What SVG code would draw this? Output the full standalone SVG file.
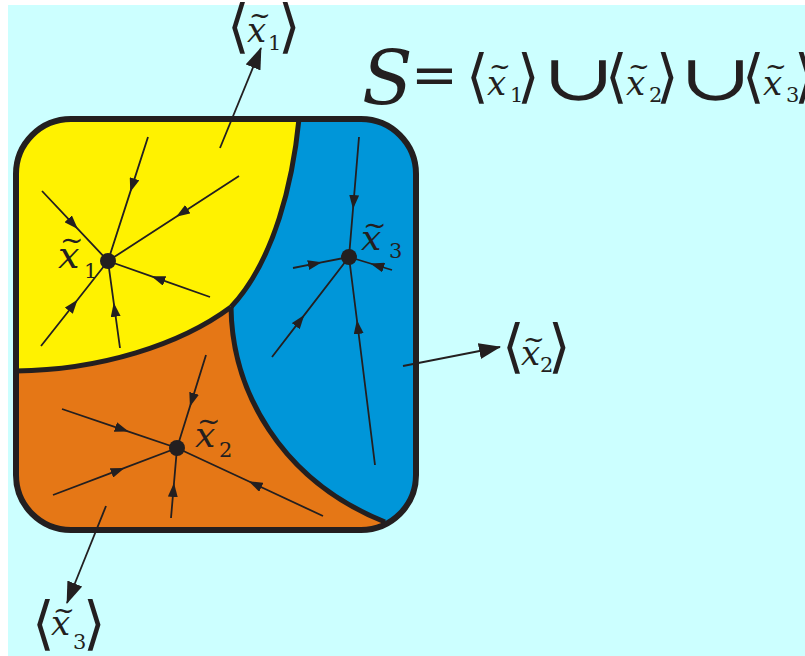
<svg xmlns="http://www.w3.org/2000/svg" width="805" height="656" viewBox="0 0 805 656">
<defs>
<style>
text{font-family:"DejaVu Serif",serif;fill:#231f20}
.i{font-style:italic}
.b{font-size:58px}
.flow{fill:none;stroke:#231f20;stroke-width:1.8;marker-mid:url(#ah)}
.out{fill:none;stroke:#231f20;stroke-width:1.8;marker-end:url(#big)}
.bd{fill:none;stroke:#231f20;stroke-width:5;stroke-linejoin:round}
</style>
<marker id="ah" viewBox="0 0 14 10" refX="7" refY="5" markerWidth="14" markerHeight="10" markerUnits="userSpaceOnUse" orient="auto"><path d="M0,0 L14,5 L0,10 z" fill="#231f20"/></marker>
<marker id="big" viewBox="0 0 22 16" refX="21" refY="8" markerWidth="22" markerHeight="16" markerUnits="userSpaceOnUse" orient="auto"><path d="M0,0 L22,8 L0,16 z" fill="#231f20"/></marker>
<clipPath id="box"><rect x="16" y="119" width="400" height="411" rx="55" ry="55"/></clipPath>
</defs>
<rect x="0" y="0" width="805" height="656" fill="#ffffff"/>
<rect x="8" y="5" width="797" height="651" fill="#ccffff"/>

<g id="regions" clip-path="url(#box)">
<rect x="16" y="119" width="400" height="411" fill="#e57716"/>
<path id="yellow" d="M0,100 L299,100 L299,119 C293,180 275,260 231,307 C180,345 100,370 16,371 L0,371 Z" fill="#fff200"/>
<path id="blue" d="M299,100 L440,100 L440,560 L405,545 L385,522 C280,480 232,390 231,307 C275,260 293,180 299,119 Z" fill="#0096d9"/>
</g>
<g id="boundaries">
<path class="bd" d="M299,119 C293,180 275,260 231,307"/>
<path class="bd" d="M231,307 C180,345 100,370 16,371"/>
<path class="bd" d="M231,307 C232,390 280,480 385,522"/>
<rect x="16" y="119" width="400" height="411" rx="55" ry="55" fill="none" stroke="#231f20" stroke-width="6"/>
</g>

<g id="connectors">
<path class="flow" d="M42,191 L73,223.9 L108,261"/>
<path class="flow" d="M148,137 L132.4,185.4 L108,261"/>
<path class="flow" d="M239,176 L182,213 L108,261"/>
<path class="flow" d="M210,297 L158,278.6 L108,261"/>
<path class="flow" d="M120,348 L114.7,309.7 L108,261"/>
<path class="flow" d="M41,346 L73.2,305.2 L108,261"/>

<path class="flow" d="M206,355 L192,400 L177,448"/>
<path class="flow" d="M62,409 L122,429.3 L177,448"/>
<path class="flow" d="M53,495 L118,470.4 L177,448"/>
<path class="flow" d="M171,518 L173.4,490 L177,448"/>
<path class="flow" d="M323,516 L255,484.3 L177,448"/>

<path class="flow" d="M359,137 L353.6,202 L349,257"/>
<path class="flow" d="M293,268 L315,263.7 L349,257"/>
<path class="flow" d="M392,270 L377,265.5 L349,257"/>
<path class="flow" d="M272,357 L300,320.6 L349,257"/>
<path class="flow" d="M375,465 L357.8,327 L349,257"/>

<path class="out" d="M220,148 L261,48"/>
<path class="out" d="M403,366 L500,347"/>
<path class="out" d="M106,506 L67,603"/>
</g>

<g id="x1">
<circle cx="108" cy="261" r="8" fill="#231f20"/>
<text class="i" x="58" y="268" font-size="38">x</text>
<text x="60" y="250" font-size="28">~</text>
<text x="84" y="278" font-size="21">1</text>
</g>
<g id="x2">
<circle cx="177" cy="448" r="8" fill="#231f20"/>
<text class="i" x="195" y="447" font-size="36">x</text>
<text x="197" y="431" font-size="28">~</text>
<text x="219" y="457" font-size="21">2</text>
</g>
<g id="x3">
<circle cx="349" cy="257" r="8" fill="#231f20"/>
<text class="i" x="361" y="250" font-size="36">x</text>
<text x="363" y="235" font-size="28">~</text>
<text x="389" y="258" font-size="21">3</text>
</g>

<g id="label1">
<text class="b" x="227" y="46">⟨</text>
<text class="i" x="247" y="42" font-size="34">x</text>
<text x="249" y="24" font-size="26">~</text>
<text x="268" y="50" font-size="21">1</text>
<text class="b" x="278" y="46">⟩</text>
</g>
<g id="label2">
<text class="b" x="502" y="366">⟨</text>
<text class="i" x="521" y="365" font-size="34">x</text>
<text x="523" y="348" font-size="26">~</text>
<text x="540" y="372" font-size="21">2</text>
<text class="b" x="548" y="366">⟩</text>
</g>
<g id="label3">
<text class="b" x="32" y="643">⟨</text>
<text class="i" x="51" y="635" font-size="34">x</text>
<text x="53" y="619" font-size="26">~</text>
<text x="73" y="649" font-size="21">3</text>
<text class="b" x="83" y="643">⟩</text>
</g>

<g id="formula">
<text class="i" x="362" y="104" font-size="74">S</text>
<text x="411" y="94" font-size="56">=</text>
<text class="b" x="466" y="96">⟨</text>
<text class="i" x="487" y="95" font-size="34">x</text>
<text x="489" y="75" font-size="26">~</text>
<text x="510" y="102" font-size="21">1</text>
<text class="b" x="517" y="96">⟩</text>
<text transform="translate(542,100) scale(1.15,0.85)" x="0" y="0" font-size="76">∪</text>
<text class="b" x="605" y="96">⟨</text>
<text class="i" x="626" y="95" font-size="34">x</text>
<text x="628" y="75" font-size="26">~</text>
<text x="649" y="102" font-size="21">2</text>
<text class="b" x="656" y="96">⟩</text>
<text transform="translate(679,100) scale(1.15,0.85)" x="0" y="0" font-size="76">∪</text>
<text class="b" x="742" y="96">⟨</text>
<text class="i" x="763" y="95" font-size="34">x</text>
<text x="765" y="75" font-size="26">~</text>
<text x="786" y="102" font-size="21">3</text>
<text class="b" x="794" y="96">⟩</text>
</g>
</svg>
